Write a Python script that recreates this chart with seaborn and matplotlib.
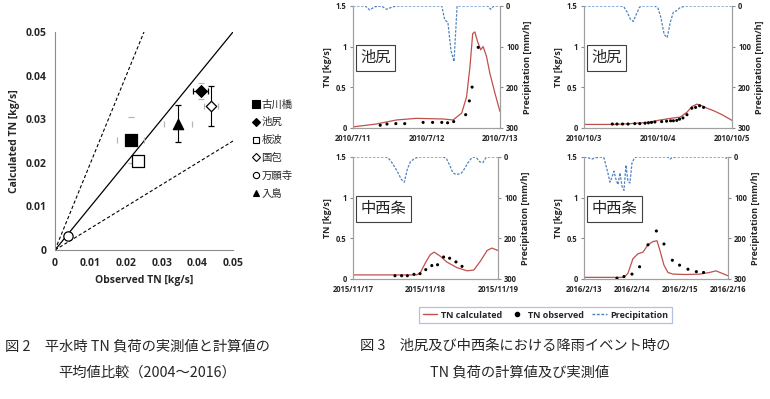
import numpy as np
import pandas as pd
import matplotlib
matplotlib.use("Agg")
import matplotlib.pyplot as plt
import matplotlib.dates as mdates
from matplotlib.lines import Line2D
import seaborn as sns

# ---- Fig.2 data: mean TN load, observed vs calculated ----
sites = ["古川橋", "池尻", "板波", "国包", "万願寺", "入島"]
obs_tn = [0.0213, 0.0409, 0.0234, 0.0438, 0.0036, 0.0346]
calc_tn = [0.0252, 0.0365, 0.0204, 0.0330, 0.0032, 0.0290]
obs_err = [0.0038, 0.0022, 0.0010, 0.0020, 0.0004, 0.0040]
calc_err = [0.0052, 0.0019, 0.0012, 0.0046, 0.0004, 0.0042]
obs_err_dark = [False, True, True, False, True, False]
calc_err_dark = [False, False, True, True, True, True]
site_markers = ["s", "D", "s", "D", "o", "^"]
site_filled = [True, True, False, False, False, True]
site_sizes = [80, 35, 70, 28, 45, 55]

# ---- Fig.3 data: event time series (hours after start date) ----
tl_start = "2010-07-11"
tl_calc_h = [0, 7.6, 14.2, 20.7, 29.5, 32.7, 35.5, 37.1, 38.2, 39.1, 39.8, 40.7, 41.7, 42.5, 43.6, 44.7, 46.4, 48]
tl_calc_v = [0.01, 0.045, 0.095, 0.115, 0.107, 0.095, 0.18, 0.38, 0.75, 1.16, 1.18, 1.06, 0.96, 1.0, 0.88, 0.67, 0.42, 0.2]
tl_obs_h = [8.9, 11.1, 14.0, 16.9, 22.9, 26.0, 29.0, 30.9, 32.9, 36.8, 38.0, 38.9, 40.9]
tl_obs_v = [0.03, 0.045, 0.05, 0.05, 0.065, 0.065, 0.065, 0.06, 0.075, 0.16, 0.33, 0.5, 0.99]
tl_rain_h = [0, 4, 5.5, 7, 9.3, 10.9, 12, 14, 29, 30, 31, 32, 33, 34, 44, 45, 46, 48]
tl_rain_v = [0, 0, 10, 2, 0, 8, 5, 0, 0, 35, 40, 110, 137, 0, 0, 8, 0, 0]

tr_start = "2010-10-03"
tr_calc_h = [0, 10, 12.7, 18.2, 21.4, 24.7, 29.0, 31.2, 33.4, 35.0, 36.6, 38.3, 39.9, 42.0, 44.8, 48]
tr_calc_v = [0.04, 0.04, 0.045, 0.057, 0.07, 0.095, 0.12, 0.13, 0.19, 0.26, 0.29, 0.27, 0.24, 0.21, 0.16, 0.09]
tr_obs_h = [9.2, 10.7, 12.5, 14.3, 16.5, 18.1, 19.8, 20.9, 21.9, 23.0, 25.2, 26.8, 28.1, 29.0, 30.1, 31.0, 32.1, 33.4, 35.0, 36.2, 37.5, 38.8]
tr_obs_v = [0.045, 0.045, 0.045, 0.045, 0.05, 0.05, 0.055, 0.06, 0.065, 0.07, 0.075, 0.08, 0.085, 0.085, 0.09, 0.105, 0.12, 0.16, 0.24, 0.25, 0.27, 0.25]
tr_rain_h = [0, 12, 13, 14, 15, 16, 17, 18, 19, 23, 24, 25, 26, 27, 28, 29, 30, 31, 32, 33, 48]
tr_rain_v = [0, 0, 3, 15, 32, 38, 20, 3, 0, 0, 5, 30, 70, 78, 40, 15, 12, 5, 2, 0, 0]

bl_start = "2015-11-17"
bl_calc_h = [0, 21, 22.2, 24, 25.6, 26.9, 28.9, 31, 34.4, 37.8, 40, 42.2, 44.4, 46, 48]
bl_calc_v = [0.05, 0.05, 0.07, 0.2, 0.3, 0.33, 0.28, 0.21, 0.14, 0.1, 0.11, 0.22, 0.35, 0.38, 0.35]
bl_obs_h = [13.9, 16.1, 18.0, 20.2, 22.2, 24.1, 26.1, 28.0, 30.0, 32.0, 34.1, 36.1]
bl_obs_v = [0.04, 0.04, 0.04, 0.057, 0.065, 0.115, 0.165, 0.175, 0.27, 0.255, 0.21, 0.155]
bl_rain_h = [0, 11, 12, 13, 14, 15, 16, 17, 18, 19, 20, 21, 22, 30, 31, 32, 33, 34, 35, 36, 37, 38, 39, 40, 41, 42, 43, 44, 45, 48]
bl_rain_v = [0, 0, 5, 15, 27, 40, 55, 62, 30, 12, 6, 2, 0, 0, 5, 20, 38, 43, 42, 39, 28, 15, 5, 0, 3, 12, 14, 2, 0, 0]

br_start = "2016-02-13"
br_calc_h = [0, 20, 22, 24.5, 27, 29.5, 32, 34.5, 36.5, 38, 40, 42, 44.5, 51, 58, 62.8, 66, 69, 72]
br_calc_v = [0.02, 0.02, 0.07, 0.25, 0.31, 0.33, 0.42, 0.46, 0.47, 0.35, 0.17, 0.08, 0.06, 0.055, 0.06, 0.08, 0.1, 0.07, 0.04]
br_obs_h = [16.5, 20.0, 24.0, 27.8, 32.0, 36.2, 40.0, 44.2, 47.8, 52.0, 56.2, 59.8]
br_obs_v = [0.01, 0.03, 0.06, 0.15, 0.42, 0.59, 0.43, 0.23, 0.17, 0.12, 0.09, 0.08]
br_rain_h = [0, 2, 4, 6, 8, 10, 12, 13, 14, 15, 16, 17, 18, 19, 20, 21, 22, 23, 24, 25, 26, 42, 43, 44, 46, 70, 71, 72]
br_rain_v = [0, 2, 5, 2, 0, 2, 40, 62, 50, 35, 55, 68, 39, 72, 82, 20, 60, 64, 15, 5, 0, 0, 5, 2, 0, 0, 3, 0]

station_labels = ["池尻", "池尻", "中西条", "中西条"]

RED = "#c0504d"
BLUE = "#4f81bd"
GRAY = "#8c8c8c"
JP = ["Noto Sans CJK JP", "DejaVu Sans"]

sns.set_style("white")
plt.rcParams["font.family"] = ["Open Sans", "Noto Sans CJK JP", "DejaVu Sans"]

fig = plt.figure(figsize=(7.7, 3.99), dpi=100)

# ================= Fig.2 scatter =================
ax = fig.add_axes([0.0714, 0.3734, 0.2312, 0.5464])
ref = np.array([0, 0.05])
ax.plot(ref, ref, color="black", lw=0.9, zorder=1)
ax.plot(ref / 2, ref, color="black", lw=0.8, ls=(0, (3, 2)), zorder=1)
ax.plot(ref, ref / 2, color="black", lw=0.8, ls=(0, (3, 2)), zorder=1)

for i, s in enumerate(sites):
    # faint gray caps and dark error bars
    xe_col = "black" if obs_err_dark[i] else "#b5b5b5"
    ye_col = "black" if calc_err_dark[i] else "#b5b5b5"
    ax.errorbar(obs_tn[i], calc_tn[i], xerr=obs_err[i], fmt="none", ecolor=xe_col,
                elinewidth=0.8 if obs_err_dark[i] else 0, capsize=2.5, capthick=0.9, zorder=2)
    ax.errorbar(obs_tn[i], calc_tn[i], yerr=calc_err[i], fmt="none", ecolor=ye_col,
                elinewidth=0.8 if calc_err_dark[i] else 0, capsize=2.5, capthick=0.9, zorder=2)
    sns.scatterplot(x=[obs_tn[i]], y=[calc_tn[i]], marker=site_markers[i], s=site_sizes[i],
                    color="black" if site_filled[i] else "white", edgecolor="black",
                    linewidth=0.9, label=s, ax=ax, zorder=3)

ax.set_xlim(0, 0.05)
ax.set_ylim(0, 0.05)
ticks = [0, 0.01, 0.02, 0.03, 0.04, 0.05]
ax.set_xticks(ticks)
ax.set_yticks(ticks)
fmt = lambda v, p: "0" if v == 0 else f"{v:.2f}"
ax.xaxis.set_major_formatter(plt.FuncFormatter(fmt))
ax.yaxis.set_major_formatter(plt.FuncFormatter(fmt))
ax.tick_params(labelsize=7.5, length=3, color=GRAY, direction="out", pad=3)
for lab in ax.get_xticklabels() + ax.get_yticklabels():
    lab.set_fontweight("bold")
ax.set_xlabel("Observed TN [kg/s]", fontsize=7.5, fontweight="bold", labelpad=4)
ax.set_ylabel("Calculated TN [kg/s]", fontsize=7.5, fontweight="bold", labelpad=4)
sns.despine(ax=ax)
for sp in ["left", "bottom"]:
    ax.spines[sp].set_color(GRAY)
    ax.spines[sp].set_linewidth(0.8)

handles = [Line2D([], [], ls="none", marker=site_markers[i],
                  markersize=[5.5, 4, 5, 3.8, 4.5, 5][i],
                  markerfacecolor="black" if site_filled[i] else "white",
                  markeredgecolor="black", markeredgewidth=0.8) for i in range(len(sites))]
ax.legend(handles, sites, loc="upper left", bbox_to_anchor=(1.09, 0.71), frameon=False,
          prop={"family": JP, "size": 7.5}, handlelength=0.5, handletextpad=0.3,
          labelspacing=0.75, borderaxespad=0)

# ================= Fig.3 time series =================
panels = [
    ([0.4584, 0.680, 0.1909, 0.305], tl_start, 2, tl_calc_h, tl_calc_v, tl_obs_h, tl_obs_v, tl_rain_h, tl_rain_v),
    ([0.7584, 0.680, 0.1922, 0.305], tr_start, 2, tr_calc_h, tr_calc_v, tr_obs_h, tr_obs_v, tr_rain_h, tr_rain_v),
    ([0.4584, 0.3008, 0.1883, 0.3058], bl_start, 2, bl_calc_h, bl_calc_v, bl_obs_h, bl_obs_v, bl_rain_h, bl_rain_v),
    ([0.7584, 0.3008, 0.1870, 0.3058], br_start, 3, br_calc_h, br_calc_v, br_obs_h, br_obs_v, br_rain_h, br_rain_v),
]

for k, (rect, start, ndays, ch, cv, oh, ov, rh, rv) in enumerate(panels):
    t0 = pd.Timestamp(start)
    calc_df = pd.DataFrame({"t": t0 + pd.to_timedelta(ch, unit="h"), "v": cv})
    obs_df = pd.DataFrame({"t": t0 + pd.to_timedelta(oh, unit="h"), "v": ov})
    rain_df = pd.DataFrame({"t": t0 + pd.to_timedelta(rh, unit="h"), "v": rv})

    a = fig.add_axes(rect)
    sns.lineplot(data=calc_df, x="t", y="v", color=RED, lw=0.9, ax=a)
    sns.scatterplot(data=obs_df, x="t", y="v", color="black", s=5, edgecolor="none", ax=a, zorder=3)
    a.set_xlim(t0, t0 + pd.Timedelta(days=ndays))
    a.set_ylim(0, 1.5)
    a.set_yticks([0, 0.5, 1, 1.5])
    a.yaxis.set_major_formatter(plt.FuncFormatter(lambda v, p: f"{v:g}"))
    a.xaxis.set_major_locator(mdates.DayLocator())
    a.xaxis.set_major_formatter(mdates.DateFormatter("%Y/%-m/%-d"))
    a.set_xlabel("")
    a.set_ylabel("TN [kg/s]", fontsize=6.5, fontweight="bold", labelpad=3)
    a.tick_params(labelsize=5.5, length=2.5, color=GRAY, pad=2)
    for lab in a.get_xticklabels() + a.get_yticklabels():
        lab.set_fontweight("bold")

    b = a.twinx()
    sns.lineplot(data=rain_df, x="t", y="v", color=BLUE, lw=0.9, ls=(0, (2, 1.2)), ax=b)
    b.set_ylim(300, 0)
    b.set_yticks([0, 100, 200, 300])
    b.set_ylabel("Precipitation [mm/h]", fontsize=6.5, fontweight="bold", labelpad=3)
    b.tick_params(labelsize=5.5, length=2.5, color=GRAY, pad=2)
    for lab in b.get_yticklabels():
        lab.set_fontweight("bold")
    b.set_xlim(t0, t0 + pd.Timedelta(days=ndays))

    for axx in (a, b):
        axx.spines["top"].set_visible(False)
        for sp in ["left", "right", "bottom"]:
            axx.spines[sp].set_color("#a0a0a0")
            axx.spines[sp].set_linewidth(0.8)

    a.text(0.05, 0.575, station_labels[k], transform=a.transAxes, fontsize=11,
           family=JP, va="center", ha="left", zorder=5,
           bbox=dict(boxstyle="square,pad=0.3", fc="white", ec="#404040", lw=0.8))

# shared legend for Fig.3
leg_handles = [Line2D([], [], color=RED, lw=1),
               Line2D([], [], ls="none", marker="o", color="black", markersize=3),
               Line2D([], [], color=BLUE, lw=1, ls=(0, (2, 1.2)))]
leg = fig.legend(leg_handles, ["TN calculated", "TN observed", "Precipitation"],
                 loc="center", bbox_to_anchor=(0.7085, 0.2105), ncol=3, fontsize=6.5,
                 frameon=True, fancybox=False, handlelength=1.6, handletextpad=0.4,
                 columnspacing=0.9, borderpad=0.4)
leg.get_frame().set_edgecolor("#9db3d6")
leg.get_frame().set_linewidth(0.9)
for t in leg.get_texts():
    t.set_fontweight("bold")

# captions
cap = dict(fontsize=10.3, family=JP, va="center")
fig.text(5 / 770, 1 - 347 / 399, "図 2　平水時 TN 負荷の実測値と計算値の", ha="left", **cap)
fig.text(58 / 770, 1 - 373 / 399, "平均値比較（2004～2016）", ha="left", **cap)
fig.text(360 / 770, 1 - 346 / 399, "図 3　池尻及び中西条における降雨イベント時の", ha="left", **cap)
fig.text(430 / 770, 1 - 373 / 399, "TN 負荷の計算値及び実測値", ha="left", **cap)

fig.savefig("out.png", dpi=100)
